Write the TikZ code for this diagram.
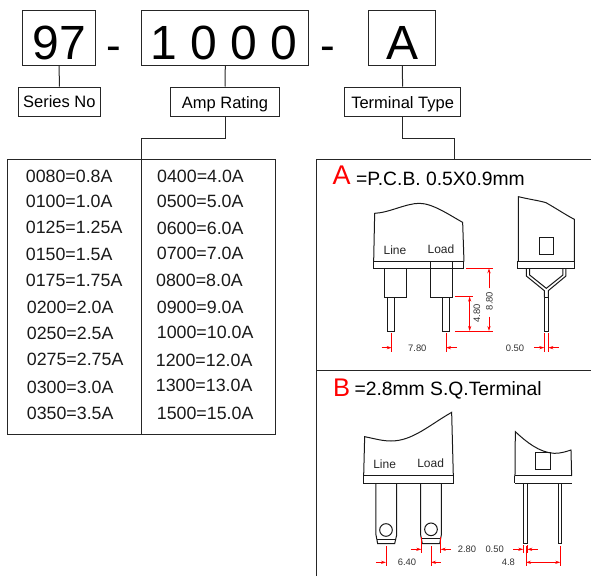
\documentclass[tikz,border=0pt]{standalone}
\usepackage{fontspec}
\setmainfont{Liberation Sans}
\usetikzlibrary{arrows.meta}
\newcommand{\lowered}[2]{\raisebox{-#1pt}[0pt][0pt]{#2}}
\tikzset{
 x=1pt,y=-1pt,
 outl/.style={draw=black!85,line width=1pt,line join=miter},
 bigbox/.style={outl,anchor=center,inner sep=0pt,minimum height=55pt,font=\fontsize{48}{48}\selectfont},
 labelbox/.style={outl,anchor=center,inner sep=0pt,minimum height=29pt,font=\fontsize{16.5}{18}\selectfont},
 dashtxt/.style={anchor=center,inner sep=0pt,font=\fontsize{44}{44}\selectfont},
 rowtxt/.style={anchor=west,inner sep=0pt,font=\fontsize{17.8}{18}\selectfont,text=black!90},
 head/.style={anchor=west,inner sep=0pt,font=\fontsize{19.3}{20}\selectfont},
 redhead/.style={anchor=center,inner sep=0pt,text=red},
 pinlbl/.style={anchor=center,inner sep=0pt,font=\fontsize{12}{12}\selectfont,text=black!85},
 dimtxt/.style={anchor=center,inner sep=0pt,font=\fontsize{9.4}{9.4}\selectfont,text=black!80},
 part/.style={draw=black!90,line width=1pt},
 dim/.style={draw=red,line width=0.9pt},
 dimar/.style={draw=red,line width=0.9pt,-{Stealth[length=5pt,width=3.2pt,fill=red]}},
 panA/.style={shift={(316,160)},x=0.3333pt,y=-0.3333pt},
 panB/.style={shift={(316,370)},x=0.3333pt,y=-0.3333pt},
}
\begin{document}
\begin{tikzpicture}
\useasboundingbox (0,0) rectangle (591,576);
% code boxes
\node[bigbox,minimum width=73pt] (n97) at (59.2,37.5) {\lowered{21.5}{97}};
\node[bigbox,minimum width=167.3pt] (n1000) at (225.3,37.5) {\hspace*{-3pt}\lowered{21.5}{1 0 0 0}};
\node[bigbox,minimum width=66.7pt] (nA) at (402.3,37.5) {\lowered{21.5}{A}};
\node[dashtxt] (d1) at (113.5,54) {-};
\node[dashtxt] (d2) at (327.5,54) {-};
\node[labelbox,minimum width=82pt] (series) at (59.3,101.5) {\lowered{5.8}{Series No}};
\node[labelbox,minimum width=109.4pt] (amp) at (225,101.5) {\lowered{6.8}{Amp Rating}};
\node[labelbox,minimum width=115.3pt] (term) at (402.6,101.5) {\lowered{6.8}{Terminal Type}};
\draw[outl] (n97.south) -- (series.north);
\draw[outl] (n1000.south) -- (amp.north);
\draw[outl] (nA.south) -- (term.north);
% table
\node[outl,minimum width=268.4pt,minimum height=274.6pt,inner sep=0pt] (tbl) at (141.5,297) {};
\coordinate (tblbot) at (141.7,434.3);
\coordinate (tapR) at (454.7,159);
\draw[outl] (amp.south) -- (225,138.7) -- (141.7,138.7) -- (tblbot);
\draw[outl] (term.south) -- (402.6,138.7) -- (454.7,138.7) -- (tapR);
\foreach \i/\t/\x/\y in {a/0080=0.8A/25.7/176.2,b/0100=1.0A/25.7/201.5,c/0125=1.25A/25.7/227,d/0150=1.5A/25.7/254.5,e/0175=1.75A/25.7/280.5,f/0200=2.0A/26.7/307.5,g/0250=2.5A/26.7/333.5,h/0275=2.75A/26.7/359.5,i/0300=3.0A/26.7/387,j/0350=3.5A/26.7/413}
  \node[rowtxt] (l\i) at (\x,\y) {\t};
\foreach \i/\t/\x/\y in {a/0400=4.0A/157/176.2,b/0500=5.0A/156.7/201.5,c/0600=6.0A/156.7/228,d/0700=7.0A/156.7/253.8,e/0800=8.0A/156/280.5,f/0900=9.0A/156.7/307.5,g/1000=10.0A/156.7/332.8,h/1200=12.0A/155.7/360.5,i/1300=13.0A/155.7/385.5,j/1500=15.0A/156.7/413.8}
  \node[rowtxt] (r\i) at (\x,\y) {\t};
% panel frame
\coordinate (pTL) at (316,159.5); \coordinate (pTR) at (591,159.5);
\coordinate (pBL) at (316,576); \coordinate (pML) at (316,370); \coordinate (pMR) at (591,370);
\draw[outl] (pBL) -- (pTL) -- (pTR);
\draw[outl] (pML) -- (pMR);
% panel A
\begin{scope}[panA]
\node[redhead,font=\fontsize{27}{27}\selectfont] (hA) at (77,47) {A};
\node[head] (tA) at (120,58) {=P.C.B. 0.5X0.9mm};
\draw[part] (173,305) -- (176,160) .. controls (220,158) and (270,130) .. (310,130) .. controls (350,130) and (400,165) .. (440,187) -- (444,305);
\draw[part] (173,305) rectangle (444,327);
\draw[part] (207,327) rectangle (272,412);
\draw[part] (345,305) rectangle (410,412);
\draw[part] (216,412) rectangle (237,515);
\draw[part] (381,412) rectangle (402,515);
\node[pinlbl] (lnA) at (237,270) {Line};
\node[pinlbl] (ldA) at (375,267) {Load};
\draw[dim] (450,325) -- (530,325) (417,410) -- (470,410) (417,513) -- (530,513);
\draw[dimar] (461,460) -- (461,410);
\draw[dimar] (461,460) -- (461,513);
\draw[dimar] (519,385) -- (519,325);
\draw[dimar] (519,470) -- (519,513);
\node[dimtxt,rotate=90] (d48) at (483,460) {4.80};
\node[dimtxt,rotate=90] (d88) at (520,423) {8.80};
\draw[dim] (227,518) -- (227,575) (390,518) -- (390,575);
\draw[dimar] (197,563) -- (227,563);
\draw[dimar] (422,563) -- (390,563);
\node[dimtxt] (d78) at (304,565) {7.80};
\draw[part] (607,305) -- (607,110) .. controls (640,118) and (670,122) .. (690,128) .. controls (720,145) and (750,165) .. (775,178) -- (775,305);
\draw[part] (606,305) rectangle (777,327);
\draw[part] (670,234) rectangle (713,285);
\draw[part] (631,327) -- (631,348) -- (685,392) -- (685,412) (641,327) -- (641,345) -- (691,385) -- (741,345) -- (741,327) (750,327) -- (750,348) -- (697,392) -- (697,412);
\draw[part] (685,412) rectangle (697,515);
\draw[dim] (685,518) -- (685,575) (697,518) -- (697,575);
\draw[dimar] (655,563) -- (685,563);
\draw[dimar] (728,563) -- (697,563);
\node[dimtxt] (d05) at (597,565) {0.50};
\end{scope}
% panel B
\begin{scope}[panB]
\node[redhead,font=\fontsize{25.5}{26}\selectfont] (hB) at (77,52) {B};
\node[head] (tB) at (115,61) {=2.8mm S.Q.Terminal};
\draw[part] (143,318) -- (146,200) .. controls (180,207) and (200,213) .. (225,213) .. controls (290,213) and (340,165) .. (407,127) -- (412,318);
\draw[part] (143,318) rectangle (412,340);
\draw[part] (180,340) -- (180,495) -- (185,521) -- (236,521) -- (242,495) -- (242,340);
\draw[part] (183,508) -- (238,508);
\draw[part] (210,480) circle[radius=19];
\draw[part] (314,340) -- (314,495) -- (319,521) -- (371,521) -- (376,495) -- (376,340);
\draw[part] (317,507) -- (373,507);
\draw[part] (345,478) circle[radius=19];
\node[pinlbl] (lnB) at (206,282) {Line};
\node[pinlbl] (ldB) at (344,279) {Load};
\draw[dim] (210,528) -- (210,588) (345,528) -- (345,588);
\draw[dimar] (180,577) -- (210,577);
\draw[dimar] (375,577) -- (345,577);
\node[dimtxt] (d64) at (273,578) {6.40};
\draw[dim] (316,502) -- (316,548) (374,502) -- (374,548);
\draw[dimar] (285,538) -- (316,538);
\draw[dimar] (405,538) -- (374,538);
\node[dimtxt] (d28) at (453,538) {2.80};
\node[dimtxt] (d05b) at (536,538) {0.50};
\draw[part] (597,318) -- (598,185) .. controls (630,215) and (670,248) .. (715,250) .. controls (735,250) and (750,245) .. (765,240) -- (767,318);
\draw[part] (597,318) -- (767,318) (597,340) -- (767,340) (597,318) -- (597,340);
\draw[part] (660,247) rectangle (704,299);
\draw[part] (622,340) rectangle (634,521);
\draw[part] (727,340) rectangle (738,521);
\draw[dim] (622,525) -- (622,550) (634,525) -- (634,550);
\draw[dimar] (592,538) -- (622,538);
\draw[dimar] (665,538) -- (634,538);
\draw[dim] (630,528) -- (630,588) (733,528) -- (733,588);
\draw[red,line width=0.9pt,{Stealth[length=5pt,width=3.2pt]}-{Stealth[length=5pt,width=3.2pt]}] (630,577) -- (733,577);
\node[dimtxt] (d48b) at (577,578) {4.8};
\end{scope}
\end{tikzpicture}
\end{document}
